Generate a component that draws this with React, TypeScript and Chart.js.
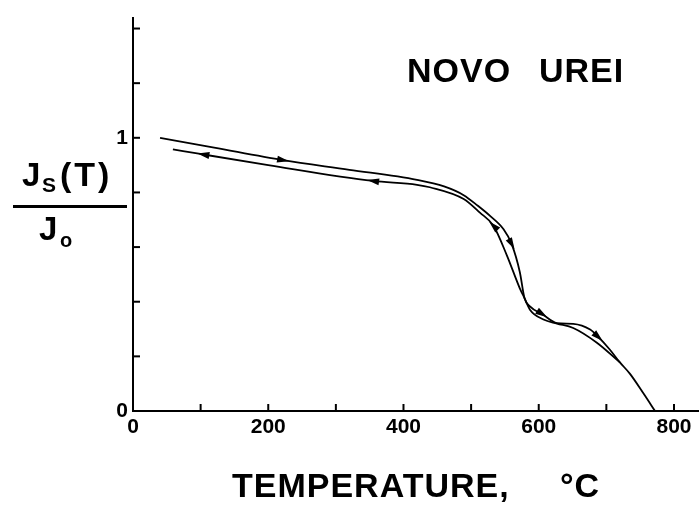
import { useEffect, useRef } from 'react';
import { Chart, registerables } from 'chart.js';

Chart.register(...registerables);

// Heating branch: temperature (°C) and Js(T)/Jo
const HEAT_T = [40, 120, 222, 320, 420, 460, 489, 510, 528, 548, 560, 572, 579, 587, 605, 627, 651, 676, 688, 705, 720, 735, 755, 772];
const HEAT_J = [1.0, 0.964, 0.918, 0.883, 0.846, 0.822, 0.79, 0.751, 0.714, 0.665, 0.611, 0.509, 0.413, 0.383, 0.355, 0.322, 0.319, 0.298, 0.271, 0.225, 0.178, 0.136, 0.064, 0.0];

// Cooling branch
const COOL_T = [59, 104, 200, 355, 420, 439, 489, 513, 533, 553, 572, 579, 587, 607, 627, 651, 686, 720];
const COOL_J = [0.958, 0.939, 0.9, 0.842, 0.828, 0.819, 0.776, 0.726, 0.678, 0.569, 0.449, 0.413, 0.371, 0.335, 0.32, 0.304, 0.25, 0.178];

// Arrow marks (temperatures along each branch)
const HEAT_ARROWS = [222, 560, 605, 688];
const COOL_ARROWS = [104, 355, 533];

const X_TICKS = [0, 100, 200, 300, 400, 500, 600, 700, 800];
const X_LABELS = [0, 200, 400, 600, 800];
const Y_TICKS = [0, 0.2, 0.4, 0.6, 0.8, 1, 1.2, 1.4];
const Y_LABELS = [0, 1];

const TITLE = 'NOVO UREI';
const X_TITLE_A = 'TEMPERATURE,';
const X_TITLE_B = '°C';

const FONT = '"Liberation Sans", Arial, Helvetica, sans-serif';

function pointAt(pts: { x: number; y: number }[], px: number) {
  for (let i = 0; i < pts.length - 1; i++) {
    const a = pts[i];
    const b = pts[i + 1];
    const lo = Math.min(a.x, b.x);
    const hi = Math.max(a.x, b.x);
    if (px >= lo && px <= hi) {
      const t = hi === lo ? 0 : (px - a.x) / (b.x - a.x);
      return { x: a.x + t * (b.x - a.x), y: a.y + t * (b.y - a.y), dx: b.x - a.x, dy: b.y - a.y };
    }
  }
  return null;
}

const decoPlugin = {
  id: 'deco',
  afterDraw(chart: any) {
    const ctx: CanvasRenderingContext2D = chart.ctx;
    const xs = chart.scales.x;
    const ys = chart.scales.y;
    ctx.save();
    ctx.strokeStyle = '#000';
    ctx.fillStyle = '#000';
    ctx.lineWidth = 2;
    // inward tick marks
    X_TICKS.forEach((v) => {
      if (v === 0) return;
      const x = xs.getPixelForValue(v);
      ctx.beginPath();
      ctx.moveTo(x, ys.bottom);
      ctx.lineTo(x, ys.bottom - 7);
      ctx.stroke();
    });
    Y_TICKS.forEach((v) => {
      if (v === 0) return;
      const y = ys.getPixelForValue(v);
      ctx.beginPath();
      ctx.moveTo(xs.left, y);
      ctx.lineTo(xs.left + 7, y);
      ctx.stroke();
    });

    // arrows
    const drawArrows = (dsIndex: number, temps: number[], forward: boolean) => {
      const meta = chart.getDatasetMeta(dsIndex);
      const pts = meta.data.map((e: any) => ({ x: e.x, y: e.y }));
      temps.forEach((t) => {
        const px = xs.getPixelForValue(t);
        const p = pointAt(pts, px);
        if (!p) return;
        const len = Math.hypot(p.dx, p.dy) || 1;
        let ux = p.dx / len;
        let uy = p.dy / len;
        if (!forward) {
          ux = -ux;
          uy = -uy;
        }
        const nx = -uy;
        const ny = ux;
        const L = 6;
        const W = 3.5;
        ctx.beginPath();
        ctx.moveTo(p.x + ux * L, p.y + uy * L);
        ctx.lineTo(p.x - ux * L + nx * W, p.y - uy * L + ny * W);
        ctx.lineTo(p.x - ux * L - nx * W, p.y - uy * L - ny * W);
        ctx.closePath();
        ctx.fill();
      });
    };
    drawArrows(0, HEAT_ARROWS, true);
    drawArrows(1, COOL_ARROWS, false);

    // texts
    ctx.textAlign = 'left';
    ctx.textBaseline = 'alphabetic';
    ctx.font = `bold 34px ${FONT}`;
    (ctx as any).letterSpacing = '1px';
    const [w1, w2] = TITLE.split(' ');
    ctx.fillText(w1, 407, 82);
    ctx.fillText(w2, 539, 82);

    ctx.fillText(X_TITLE_A, 232, 497);
    ctx.fillText(X_TITLE_B, 560, 497);

    // y-axis label: Js(T) / Jo
    (ctx as any).letterSpacing = '0px';
    ctx.font = `bold 33px ${FONT}`;
    ctx.fillText('J', 22, 186);
    ctx.font = `bold 21px ${FONT}`;
    ctx.fillText('S', 42, 192);
    ctx.font = `bold 34px ${FONT}`;
    (ctx as any).letterSpacing = '3px';
    ctx.fillText('(T)', 60, 186);
    (ctx as any).letterSpacing = '0px';
    ctx.fillRect(13, 205, 114, 3);
    ctx.font = `bold 33px ${FONT}`;
    ctx.fillText('J', 39, 240);
    ctx.font = `bold 20px ${FONT}`;
    ctx.fillText('o', 60, 247);
    ctx.restore();
  },
};

export default function App() {
  const ref = useRef<HTMLCanvasElement | null>(null);
  useEffect(() => {
    if (!ref.current) return;
    const heat = HEAT_T.map((t, i) => ({ x: t, y: HEAT_J[i] }));
    const cool = COOL_T.map((t, i) => ({ x: t, y: COOL_J[i] }));
    const chart = new Chart(ref.current, {
      type: 'line',
      data: {
        datasets: [
          {
            data: heat,
            borderColor: '#000',
            borderWidth: 1.8,
            pointRadius: 0,
            fill: false,
            cubicInterpolationMode: 'monotone',
          },
          {
            data: cool,
            borderColor: '#000',
            borderWidth: 1.8,
            pointRadius: 0,
            fill: false,
            cubicInterpolationMode: 'monotone',
          },
        ],
      },
      options: {
        responsive: false,
        animation: false,
        layout: { padding: { top: 12, left: 0, right: 0, bottom: 0 } },
        plugins: { legend: { display: false }, tooltip: { enabled: false } },
        scales: {
          x: {
            type: 'linear',
            min: 0,
            max: 837,
            afterBuildTicks: (s: any) => {
              s.ticks = X_TICKS.map((v) => ({ value: v }));
            },
            afterFit: (s: any) => {
              s.height = 100;
            },
            grid: { display: false, drawTicks: false },
            border: { display: true, color: '#000', width: 2 },
            ticks: {
              color: '#000',
              padding: 4,
              maxRotation: 0,
              autoSkip: false,
              font: { family: FONT, size: 21, weight: 'bold' },
              callback: (v: any) => (X_LABELS.includes(Number(v)) ? String(v) : ''),
            },
          },
          y: {
            type: 'linear',
            min: 0,
            max: 1.44,
            afterBuildTicks: (s: any) => {
              s.ticks = Y_TICKS.map((v) => ({ value: v }));
            },
            afterFit: (s: any) => {
              s.width = 133;
            },
            grid: { display: false, drawTicks: false },
            border: { display: true, color: '#000', width: 2 },
            ticks: {
              color: '#000',
              padding: 5,
              autoSkip: false,
              font: { family: FONT, size: 21, weight: 'bold' },
              callback: (v: any) => (Y_LABELS.includes(Number(v)) ? String(v) : ''),
            },
          },
        },
      },
      plugins: [decoPlugin],
    } as any);
    return () => chart.destroy();
  }, []);
  return (
    <div style={{ position: 'fixed', left: 0, top: 0, width: 699, height: 511, background: '#fff' }}>
      <canvas ref={ref} width={699} height={511} />
    </div>
  );
}
